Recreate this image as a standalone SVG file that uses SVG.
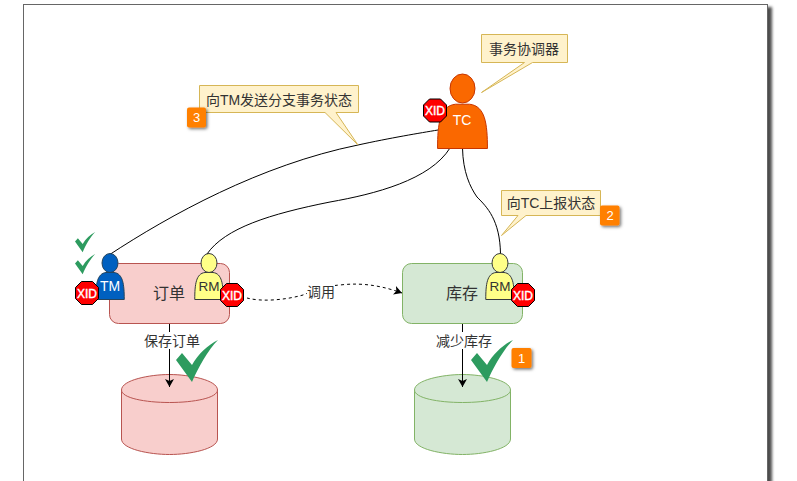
<svg xmlns="http://www.w3.org/2000/svg" width="797" height="481" viewBox="0 0 797 481">
<style>
text{font-family:"Liberation Sans","Noto Sans CJK SC",sans-serif;font-size:14px;fill:#333;text-anchor:middle}
.line{fill:none;stroke:#000;stroke-width:1}
.note{fill:#fff2cc;stroke:#d6b656}
.badge{fill:#ff8000;filter:url(#sh)}
.badgeT{fill:#fff;font-size:13px}
.check{fill:#2d9b5f}
.xid{fill:#f00;stroke:#000}
.xidT{fill:#fff;font-size:12px;stroke:#fff;stroke-width:.4}
.role{font-size:13.500px}
.white{fill:#fff}
.name{font-size:16px}
.red{fill:#f8cecc;stroke:#b85450}
.green{fill:#d5e8d4;stroke:#82b366}
.yellow{fill:#ffff88;stroke:#36393d}
.blue{fill:#0060c0;stroke:#23445d}
.orange{fill:#fa6800;stroke:#c73500}
.body{vector-effect:non-scaling-stroke}
</style>
<defs>
<filter id="sh" x="-40%" y="-40%" width="200%" height="200%"><feDropShadow dx="1.500" dy="1.500" stdDeviation="1.500" flood-color="#000" flood-opacity=".55"/></filter>
<filter id="pg" x="-3%" y="-3%" width="106%" height="106%"><feDropShadow dx="4" dy="3" stdDeviation="1.800" flood-color="#000" flood-opacity=".7"/></filter>
<marker id="arr" markerWidth="10" markerHeight="10" refX="8" refY="4.500" orient="auto" markerUnits="userSpaceOnUse"><path d="M0 0L8 4.500L0 9L2 4.500Z" fill="#000"/></marker>
<path id="body" class="body" d="M-14.250 0C-14.250-15-13-26-4-27H4C13-26 14.250-15 14.250 0Z"/>
<g id="person"><use href="#body"/><ellipse cx="0" cy="-36.500" rx="8" ry="9.500"/></g>
<path id="tick" d="M0 20L6 13L16 25C22 14 32 5 42 0C32 10 22 28 16 42Z"/>
<polygon id="oct" points="-5.500,-11.500 5.500,-11.500 11.500,-5.500 11.500,5.500 5.500,11.500 -5.500,11.500 -11.500,5.500 -11.500,-5.500"/>
</defs>
<rect x="23.500" y="4.500" width="744" height="490" fill="#fff" stroke="#666" filter="url(#pg)"/>

<g id="order"><rect class="red" x="109.500" y="263.500" width="120" height="60" rx="9"/><text class="name" x="169" y="299">订单</text></g>
<g id="stock"><rect class="green" x="402.500" y="263.500" width="120" height="60" rx="9"/><text class="name" x="462" y="299">库存</text></g>

<g id="order-db"><path class="red" d="M121.500 390C121.500 380 150 374.500 169.500 374.500S217.500 380 217.500 390V439C217.500 449 190 454.500 169.500 454.500S121.500 449 121.500 439Z"/><path class="red" d="M121.500 390C121.500 398 145 402.500 169.500 402.500S217.500 398 217.500 390"/></g>
<g id="stock-db"><path class="green" d="M414.500 390C414.500 380 443 374.500 462.500 374.500S510.500 380 510.500 390V439C510.500 449 483 454.500 462.500 454.500S414.500 449 414.500 439Z"/><path class="green" d="M414.500 390C414.500 398 438 402.500 462.500 402.500S510.500 398 510.500 390"/></g>

<g id="connectors">
<path class="line" d="M109 255C170 215 260 165 358 145C390 138 420 133 438 130"/>
<path class="line" d="M207 254C225 228 270 214 330 202C375 194 430 180 450 148"/>
<path class="line" d="M462.500 148C463 172 470 187 477 197C487 207 500 220 500.500 254"/>
<path class="line" stroke-dasharray="3 3" marker-end="url(#arr)" d="M247 298C262 302 285 300 303 295C315 290 325 286 340 285C365 282 385 287 402 293"/>
<path class="line" marker-end="url(#arr)" d="M169.500 324V387"/>
<path class="line" marker-end="url(#arr)" d="M462.500 324V387"/>
</g>

<g id="label-save"><rect x="143" y="332" width="58" height="17" fill="#fff"/><text x="172" y="346">保存订单</text></g>
<g id="label-reduce"><rect x="435" y="332" width="58" height="17" fill="#fff"/><text x="464" y="346">减少库存</text></g>
<g id="label-call"><rect x="307" y="284" width="28" height="16" fill="#fff"/><text x="321" y="297">调用</text></g>

<g id="tc"><use href="#body" class="orange" transform="translate(462.500 148.500) scale(1.750 1.640)"/><ellipse class="orange" cx="462.500" cy="88.500" rx="12.500" ry="14.500"/><text class="white" x="462" y="125">TC</text><use href="#oct" x="435" y="110.500" class="xid"/><text x="435" y="115" class="xidT">XID</text></g>
<g id="tm"><use href="#person" x="110" y="299.500" class="blue"/><text class="white" x="110" y="291">TM</text><use href="#oct" x="87" y="293" class="xid"/><text x="87" y="297.500" class="xidT">XID</text></g>
<g id="rm-order"><use href="#person" x="209" y="299.500" class="yellow"/><text class="role" x="209" y="291">RM</text><use href="#oct" x="232" y="295" class="xid"/><text x="232" y="299.500" class="xidT">XID</text></g>
<g id="rm-stock"><use href="#person" x="500" y="299.500" class="yellow"/><text class="role" x="500" y="291">RM</text><use href="#oct" x="523" y="295" class="xid"/><text x="523" y="299.500" class="xidT">XID</text></g>

<g id="note-coordinator"><path class="note" d="M481.500 34.500H567.500V62.500H532.500L481.500 92.500L524.500 62.500H481.500Z"/><text x="524" y="54">事务协调器</text></g>
<g id="note-status"><path class="note" d="M199.500 85.500H358.500V112.500H336L358 145L325 112.500H199.500Z"/><text x="279" y="105">向TM发送分支事务状态</text></g>
<g id="note-report"><path class="note" d="M501.500 190.500H600.500V215.500H526L501.500 235.500L518 215.500H501.500Z"/><text x="551" y="208">向TC上报状态</text></g>

<g id="badge-1"><rect class="badge" x="511.500" y="348" width="20" height="20" rx="2"/><text class="badgeT" x="521.500" y="362.500">1</text></g>
<g id="badge-2"><rect class="badge" x="600" y="205.500" width="19.500" height="20" rx="2"/><text class="badgeT" x="610" y="220">2</text></g>
<g id="badge-3"><rect class="badge" x="187" y="107.500" width="19" height="20" rx="2"/><text class="badgeT" x="196.500" y="122">3</text></g>

<g id="checks">
<use href="#tick" class="check" transform="translate(75 232) scale(.48)"/>
<use href="#tick" class="check" transform="translate(75 254) scale(.48)"/>
<use href="#tick" class="check" x="176" y="340"/>
<use href="#tick" class="check" x="471" y="340"/>
</g>
</svg>
